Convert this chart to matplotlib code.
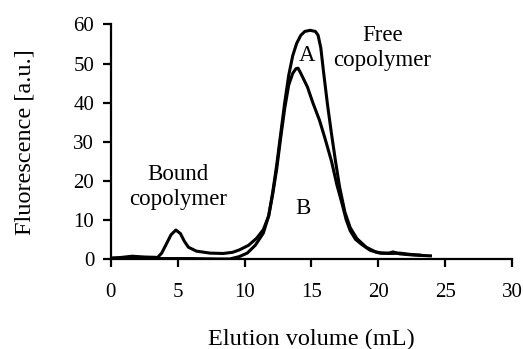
import matplotlib
matplotlib.use("Agg")
import matplotlib.pyplot as plt

plt.rcParams['font.family'] = ['Liberation Serif', 'DejaVu Serif']

# curve A: free copolymer only
vol_a = [0, 2, 4, 6, 8, 8.9, 9.6, 10.2, 10.8, 11.4, 11.8, 12.1, 12.4, 12.7, 13.0, 13.3,
         13.6, 13.9, 14.2, 14.5, 14.9, 15.3, 15.5, 15.7, 15.9, 16.2, 16.5, 16.8, 17.1,
         17.5, 17.9, 18.4, 19.1, 19.8, 20.3, 20.8, 21.1, 21.6, 22.6, 23.9]
fl_a = [0.2, 0.2, 0.1, 0.1, 0.0, 0.0, 0.6, 1.5, 3.5, 6.6, 11, 17, 24, 32, 40, 47,
        52, 55.2, 57.2, 58.2, 58.5, 58.2, 57.2, 54, 48, 39.5, 32, 25, 18.5,
        12, 8, 5.2, 3.0, 1.8, 1.5, 1.5, 1.8, 1.3, 1.0, 0.8]

# curve B: bound + free copolymer
vol_b = [0, 0.8, 1.6, 2.5, 3.5, 3.8, 4.1, 4.5, 4.86, 5.2, 5.5, 5.8, 6.4, 7.4, 8.4,
         9.1, 9.6, 10.3, 10.9, 11.4, 11.8, 12.1, 12.4, 12.7, 13.0, 13.3, 13.6, 13.85,
         14.0, 14.2, 14.7, 15.1, 15.6, 16.0, 16.5, 16.9, 17.3, 17.6, 17.9, 18.3, 18.8,
         19.4, 20.1, 21.0, 21.6, 22.3, 23.1]
fl_b = [0.2, 0.4, 0.7, 0.5, 0.4, 1.5, 3.5, 6.2, 7.4, 6.5, 4.5, 3.0, 2.0, 1.5, 1.4,
        1.7, 2.3, 3.5, 5.3, 7.5, 11, 16.5, 23, 31, 38.5, 44.5, 47.5, 48.7,
        48.8, 47.5, 44, 40, 35.5, 31, 25, 19, 14, 10, 7.2, 5.0, 3.6,
        2.2, 1.5, 1.4, 1.5, 1.2, 1.0]

fig = plt.figure(figsize=(5.23, 3.49), dpi=100)
ax = fig.add_axes([0.212, 0.258, 0.767, 0.672])

ax.plot(vol_a, fl_a, color='black', lw=2.2, solid_joinstyle='round')
ax.plot(vol_b, fl_b, color='black', lw=2.2, solid_joinstyle='round')

ax.set_xlim(0, 30)
ax.set_ylim(0, 60)
ax.set_xticks(range(0, 31, 5))
ax.set_yticks(range(0, 61, 10))
for s in ['top', 'right']:
    ax.spines[s].set_visible(False)
for s in ['left', 'bottom']:
    ax.spines[s].set_linewidth(1.6)
ax.tick_params(direction='out', length=6, width=1.6, labelsize=15)
ax.tick_params(axis='x', pad=11)
ax.tick_params(axis='y', pad=6)

ax.set_xlabel('Elution volume (mL)', fontsize=17.5, labelpad=20)
ax.set_ylabel('Fluorescence [a.u.]', fontsize=17.5, labelpad=27)

ax.text(5.0, 18.5, 'Bound\ncopolymer', fontsize=16.5, ha='center', va='center', linespacing=1.25)
ax.text(20.3, 54, 'Free\ncopolymer', fontsize=16.5, ha='center', va='center', linespacing=1.25)
ax.text(14.7, 52, 'A', fontsize=16.5, ha='center', va='center')
ax.text(14.4, 13, 'B', fontsize=16.5, ha='center', va='center')

fig.savefig('out.png', dpi=100)
